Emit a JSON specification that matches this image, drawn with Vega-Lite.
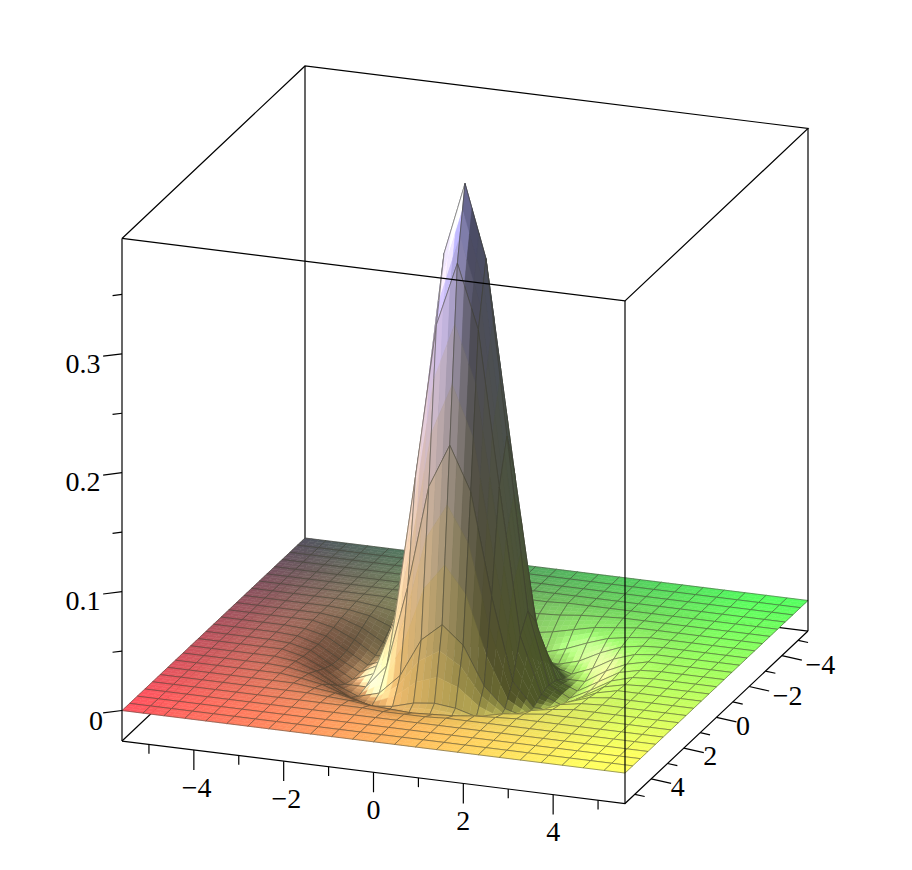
{"$schema":"https://vega.github.io/schema/vega-lite/v6.json","width":912,"height":870,"padding":0,"autosize":{"type":"none"},"background":"white","config":{"view":{"stroke":null}},
"datasets":{
"cells":[
{"id":0,"z":0},{"id":1,"z":0},{"id":2,"z":0},{"id":3,"z":0},{"id":4,"z":0},{"id":5,"z":0},{"id":6,"z":0},{"id":7,"z":0},{"id":8,"z":0},{"id":9,"z":0},{"id":10,"z":0},{"id":11,"z":0},{"id":12,"z":0},{"id":13,"z":0},{"id":14,"z":0},{"id":15,"z":0},{"id":16,"z":0},{"id":17,"z":0},{"id":18,"z":0},{"id":19,"z":0},{"id":20,"z":0},{"id":21,"z":0},{"id":22,"z":0},{"id":23,"z":0},
{"id":100,"z":0},{"id":101,"z":0},{"id":102,"z":0},{"id":103,"z":0},{"id":104,"z":0},{"id":105,"z":0},{"id":106,"z":0},{"id":107,"z":0},{"id":108,"z":0},{"id":109,"z":0},{"id":110,"z":0},{"id":111,"z":0},{"id":112,"z":0},{"id":113,"z":0},{"id":114,"z":0},{"id":115,"z":0},{"id":116,"z":0},{"id":117,"z":0},{"id":118,"z":0},{"id":119,"z":0},{"id":120,"z":0},{"id":121,"z":0},{"id":122,"z":0},{"id":123,"z":0},
{"id":200,"z":0},{"id":201,"z":0},{"id":202,"z":0},{"id":203,"z":0},{"id":204,"z":0},{"id":205,"z":0},{"id":206,"z":0},{"id":207,"z":0},{"id":208,"z":0},{"id":209,"z":0},{"id":210,"z":0},{"id":211,"z":0},{"id":212,"z":0},{"id":213,"z":0},{"id":214,"z":0},{"id":215,"z":0},{"id":216,"z":0},{"id":217,"z":0},{"id":218,"z":0},{"id":219,"z":0},{"id":220,"z":0},{"id":221,"z":0},{"id":222,"z":0},{"id":223,"z":0},
{"id":300,"z":0},{"id":301,"z":0},{"id":302,"z":0},{"id":303,"z":0},{"id":304,"z":0},{"id":305,"z":0},{"id":306,"z":0},{"id":307,"z":0},{"id":308,"z":0},{"id":309,"z":0},{"id":310,"z":0},{"id":311,"z":0},{"id":312,"z":0},{"id":313,"z":0},{"id":314,"z":0},{"id":315,"z":0},{"id":316,"z":0},{"id":317,"z":0},{"id":318,"z":0},{"id":319,"z":0},{"id":320,"z":0},{"id":321,"z":0},{"id":322,"z":0},{"id":323,"z":0},
{"id":400,"z":0},{"id":401,"z":0},{"id":402,"z":0},{"id":403,"z":0},{"id":404,"z":0},{"id":405,"z":0},{"id":406,"z":0},{"id":407,"z":0},{"id":408,"z":0},{"id":409,"z":0},{"id":410,"z":0},{"id":411,"z":-0.001},{"id":412,"z":-0.001},{"id":413,"z":-0.001},{"id":414,"z":0},{"id":415,"z":0},{"id":416,"z":0},{"id":417,"z":0},{"id":418,"z":0},{"id":419,"z":0},{"id":420,"z":0},{"id":421,"z":0},{"id":422,"z":0},{"id":423,"z":0},
{"id":500,"z":0},{"id":501,"z":0},{"id":502,"z":0},{"id":503,"z":0},{"id":504,"z":0},{"id":505,"z":0},{"id":506,"z":0},{"id":507,"z":0},{"id":508,"z":-0.001},{"id":509,"z":-0.002},{"id":510,"z":-0.004},{"id":511,"z":-0.005},{"id":512,"z":-0.006},{"id":513,"z":-0.005},{"id":514,"z":-0.004},{"id":515,"z":-0.002},{"id":516,"z":-0.001},{"id":517,"z":0},{"id":518,"z":0},{"id":519,"z":0},{"id":520,"z":0},{"id":521,"z":0},{"id":522,"z":0},{"id":523,"z":0},
{"id":600,"z":0},{"id":601,"z":0},{"id":602,"z":0},{"id":603,"z":0},{"id":604,"z":0},{"id":605,"z":0},{"id":606,"z":0},{"id":607,"z":-0.002},{"id":608,"z":-0.004},{"id":609,"z":-0.008},{"id":610,"z":-0.012},{"id":611,"z":-0.015},{"id":612,"z":-0.016},{"id":613,"z":-0.015},{"id":614,"z":-0.012},{"id":615,"z":-0.008},{"id":616,"z":-0.004},{"id":617,"z":-0.002},{"id":618,"z":0},{"id":619,"z":0},{"id":620,"z":0},{"id":621,"z":0},{"id":622,"z":0},{"id":623,"z":0},
{"id":700,"z":0},{"id":701,"z":0},{"id":702,"z":0},{"id":703,"z":0},{"id":704,"z":0},{"id":705,"z":0},{"id":706,"z":-0.002},{"id":707,"z":-0.005},{"id":708,"z":-0.011},{"id":709,"z":-0.018},{"id":710,"z":-0.023},{"id":711,"z":-0.025},{"id":712,"z":-0.025},{"id":713,"z":-0.025},{"id":714,"z":-0.023},{"id":715,"z":-0.018},{"id":716,"z":-0.011},{"id":717,"z":-0.005},{"id":718,"z":-0.002},{"id":719,"z":0},{"id":720,"z":0},{"id":721,"z":0},{"id":722,"z":0},{"id":723,"z":0},
{"id":800,"z":0},{"id":801,"z":0},{"id":802,"z":0},{"id":803,"z":0},{"id":804,"z":0},{"id":805,"z":-0.001},{"id":806,"z":-0.004},{"id":807,"z":-0.011},{"id":808,"z":-0.020},{"id":809,"z":-0.025},{"id":810,"z":-0.023},{"id":811,"z":-0.018},{"id":812,"z":-0.016},{"id":813,"z":-0.018},{"id":814,"z":-0.023},{"id":815,"z":-0.025},{"id":816,"z":-0.020},{"id":817,"z":-0.011},{"id":818,"z":-0.004},{"id":819,"z":-0.001},{"id":820,"z":0},{"id":821,"z":0},{"id":822,"z":0},{"id":823,"z":0},
{"id":900,"z":0},{"id":901,"z":0},{"id":902,"z":0},{"id":903,"z":0},{"id":904,"z":0},{"id":905,"z":-0.002},{"id":906,"z":-0.008},{"id":907,"z":-0.018},{"id":908,"z":-0.025},{"id":909,"z":-0.020},{"id":910,"z":-0.003},{"id":911,"z":0.029},{"id":912,"z":0.044},{"id":913,"z":0.029},{"id":914,"z":-0.003},{"id":915,"z":-0.020},{"id":916,"z":-0.025},{"id":917,"z":-0.018},{"id":918,"z":-0.008},{"id":919,"z":-0.002},{"id":920,"z":0},{"id":921,"z":0},{"id":922,"z":0},{"id":923,"z":0},
{"id":1000,"z":0},{"id":1001,"z":0},{"id":1002,"z":0},{"id":1003,"z":0},{"id":1004,"z":0},{"id":1005,"z":-0.004},{"id":1006,"z":-0.012},{"id":1007,"z":-0.023},{"id":1008,"z":-0.023},{"id":1009,"z":-0.003},{"id":1010,"z":0.066},{"id":1011,"z":0.152},{"id":1012,"z":0.189},{"id":1013,"z":0.152},{"id":1014,"z":0.066},{"id":1015,"z":-0.003},{"id":1016,"z":-0.023},{"id":1017,"z":-0.023},{"id":1018,"z":-0.012},{"id":1019,"z":-0.004},{"id":1020,"z":0},{"id":1021,"z":0},{"id":1022,"z":0},{"id":1023,"z":0},
{"id":1100,"z":0},{"id":1101,"z":0},{"id":1102,"z":0},{"id":1103,"z":0},{"id":1104,"z":-0.001},{"id":1105,"z":-0.005},{"id":1106,"z":-0.015},{"id":1107,"z":-0.025},{"id":1108,"z":-0.018},{"id":1109,"z":0.029},{"id":1110,"z":0.152},{"id":1111,"z":0.282},{"id":1112,"z":0.336},{"id":1113,"z":0.282},{"id":1114,"z":0.152},{"id":1115,"z":0.029},{"id":1116,"z":-0.018},{"id":1117,"z":-0.025},{"id":1118,"z":-0.015},{"id":1119,"z":-0.005},{"id":1120,"z":-0.001},{"id":1121,"z":0},{"id":1122,"z":0},{"id":1123,"z":0},
{"id":1200,"z":0},{"id":1201,"z":0},{"id":1202,"z":0},{"id":1203,"z":0},{"id":1204,"z":-0.001},{"id":1205,"z":-0.006},{"id":1206,"z":-0.016},{"id":1207,"z":-0.025},{"id":1208,"z":-0.016},{"id":1209,"z":0.044},{"id":1210,"z":0.189},{"id":1211,"z":0.336},{"id":1212,"z":0.397},{"id":1213,"z":0.336},{"id":1214,"z":0.189},{"id":1215,"z":0.044},{"id":1216,"z":-0.016},{"id":1217,"z":-0.025},{"id":1218,"z":-0.016},{"id":1219,"z":-0.006},{"id":1220,"z":-0.001},{"id":1221,"z":0},{"id":1222,"z":0},{"id":1223,"z":0},
{"id":1300,"z":0},{"id":1301,"z":0},{"id":1302,"z":0},{"id":1303,"z":0},{"id":1304,"z":-0.001},{"id":1305,"z":-0.005},{"id":1306,"z":-0.015},{"id":1307,"z":-0.025},{"id":1308,"z":-0.018},{"id":1309,"z":0.029},{"id":1310,"z":0.152},{"id":1311,"z":0.282},{"id":1312,"z":0.336},{"id":1313,"z":0.282},{"id":1314,"z":0.152},{"id":1315,"z":0.029},{"id":1316,"z":-0.018},{"id":1317,"z":-0.025},{"id":1318,"z":-0.015},{"id":1319,"z":-0.005},{"id":1320,"z":-0.001},{"id":1321,"z":0},{"id":1322,"z":0},{"id":1323,"z":0},
{"id":1400,"z":0},{"id":1401,"z":0},{"id":1402,"z":0},{"id":1403,"z":0},{"id":1404,"z":0},{"id":1405,"z":-0.004},{"id":1406,"z":-0.012},{"id":1407,"z":-0.023},{"id":1408,"z":-0.023},{"id":1409,"z":-0.003},{"id":1410,"z":0.066},{"id":1411,"z":0.152},{"id":1412,"z":0.189},{"id":1413,"z":0.152},{"id":1414,"z":0.066},{"id":1415,"z":-0.003},{"id":1416,"z":-0.023},{"id":1417,"z":-0.023},{"id":1418,"z":-0.012},{"id":1419,"z":-0.004},{"id":1420,"z":0},{"id":1421,"z":0},{"id":1422,"z":0},{"id":1423,"z":0},
{"id":1500,"z":0},{"id":1501,"z":0},{"id":1502,"z":0},{"id":1503,"z":0},{"id":1504,"z":0},{"id":1505,"z":-0.002},{"id":1506,"z":-0.008},{"id":1507,"z":-0.018},{"id":1508,"z":-0.025},{"id":1509,"z":-0.020},{"id":1510,"z":-0.003},{"id":1511,"z":0.029},{"id":1512,"z":0.044},{"id":1513,"z":0.029},{"id":1514,"z":-0.003},{"id":1515,"z":-0.020},{"id":1516,"z":-0.025},{"id":1517,"z":-0.018},{"id":1518,"z":-0.008},{"id":1519,"z":-0.002},{"id":1520,"z":0},{"id":1521,"z":0},{"id":1522,"z":0},{"id":1523,"z":0},
{"id":1600,"z":0},{"id":1601,"z":0},{"id":1602,"z":0},{"id":1603,"z":0},{"id":1604,"z":0},{"id":1605,"z":-0.001},{"id":1606,"z":-0.004},{"id":1607,"z":-0.011},{"id":1608,"z":-0.020},{"id":1609,"z":-0.025},{"id":1610,"z":-0.023},{"id":1611,"z":-0.018},{"id":1612,"z":-0.016},{"id":1613,"z":-0.018},{"id":1614,"z":-0.023},{"id":1615,"z":-0.025},{"id":1616,"z":-0.020},{"id":1617,"z":-0.011},{"id":1618,"z":-0.004},{"id":1619,"z":-0.001},{"id":1620,"z":0},{"id":1621,"z":0},{"id":1622,"z":0},{"id":1623,"z":0},
{"id":1700,"z":0},{"id":1701,"z":0},{"id":1702,"z":0},{"id":1703,"z":0},{"id":1704,"z":0},{"id":1705,"z":0},{"id":1706,"z":-0.002},{"id":1707,"z":-0.005},{"id":1708,"z":-0.011},{"id":1709,"z":-0.018},{"id":1710,"z":-0.023},{"id":1711,"z":-0.025},{"id":1712,"z":-0.025},{"id":1713,"z":-0.025},{"id":1714,"z":-0.023},{"id":1715,"z":-0.018},{"id":1716,"z":-0.011},{"id":1717,"z":-0.005},{"id":1718,"z":-0.002},{"id":1719,"z":0},{"id":1720,"z":0},{"id":1721,"z":0},{"id":1722,"z":0},{"id":1723,"z":0},
{"id":1800,"z":0},{"id":1801,"z":0},{"id":1802,"z":0},{"id":1803,"z":0},{"id":1804,"z":0},{"id":1805,"z":0},{"id":1806,"z":0},{"id":1807,"z":-0.002},{"id":1808,"z":-0.004},{"id":1809,"z":-0.008},{"id":1810,"z":-0.012},{"id":1811,"z":-0.015},{"id":1812,"z":-0.016},{"id":1813,"z":-0.015},{"id":1814,"z":-0.012},{"id":1815,"z":-0.008},{"id":1816,"z":-0.004},{"id":1817,"z":-0.002},{"id":1818,"z":0},{"id":1819,"z":0},{"id":1820,"z":0},{"id":1821,"z":0},{"id":1822,"z":0},{"id":1823,"z":0},
{"id":1900,"z":0},{"id":1901,"z":0},{"id":1902,"z":0},{"id":1903,"z":0},{"id":1904,"z":0},{"id":1905,"z":0},{"id":1906,"z":0},{"id":1907,"z":0},{"id":1908,"z":-0.001},{"id":1909,"z":-0.002},{"id":1910,"z":-0.004},{"id":1911,"z":-0.005},{"id":1912,"z":-0.006},{"id":1913,"z":-0.005},{"id":1914,"z":-0.004},{"id":1915,"z":-0.002},{"id":1916,"z":-0.001},{"id":1917,"z":0},{"id":1918,"z":0},{"id":1919,"z":0},{"id":1920,"z":0},{"id":1921,"z":0},{"id":1922,"z":0},{"id":1923,"z":0},
{"id":2000,"z":0},{"id":2001,"z":0},{"id":2002,"z":0},{"id":2003,"z":0},{"id":2004,"z":0},{"id":2005,"z":0},{"id":2006,"z":0},{"id":2007,"z":0},{"id":2008,"z":0},{"id":2009,"z":0},{"id":2010,"z":0},{"id":2011,"z":-0.001},{"id":2012,"z":-0.001},{"id":2013,"z":-0.001},{"id":2014,"z":0},{"id":2015,"z":0},{"id":2016,"z":0},{"id":2017,"z":0},{"id":2018,"z":0},{"id":2019,"z":0},{"id":2020,"z":0},{"id":2021,"z":0},{"id":2022,"z":0},{"id":2023,"z":0},
{"id":2100,"z":0},{"id":2101,"z":0},{"id":2102,"z":0},{"id":2103,"z":0},{"id":2104,"z":0},{"id":2105,"z":0},{"id":2106,"z":0},{"id":2107,"z":0},{"id":2108,"z":0},{"id":2109,"z":0},{"id":2110,"z":0},{"id":2111,"z":0},{"id":2112,"z":0},{"id":2113,"z":0},{"id":2114,"z":0},{"id":2115,"z":0},{"id":2116,"z":0},{"id":2117,"z":0},{"id":2118,"z":0},{"id":2119,"z":0},{"id":2120,"z":0},{"id":2121,"z":0},{"id":2122,"z":0},{"id":2123,"z":0},
{"id":2200,"z":0},{"id":2201,"z":0},{"id":2202,"z":0},{"id":2203,"z":0},{"id":2204,"z":0},{"id":2205,"z":0},{"id":2206,"z":0},{"id":2207,"z":0},{"id":2208,"z":0},{"id":2209,"z":0},{"id":2210,"z":0},{"id":2211,"z":0},{"id":2212,"z":0},{"id":2213,"z":0},{"id":2214,"z":0},{"id":2215,"z":0},{"id":2216,"z":0},{"id":2217,"z":0},{"id":2218,"z":0},{"id":2219,"z":0},{"id":2220,"z":0},{"id":2221,"z":0},{"id":2222,"z":0},{"id":2223,"z":0},
{"id":2300,"z":0},{"id":2301,"z":0},{"id":2302,"z":0},{"id":2303,"z":0},{"id":2304,"z":0},{"id":2305,"z":0},{"id":2306,"z":0},{"id":2307,"z":0},{"id":2308,"z":0},{"id":2309,"z":0},{"id":2310,"z":0},{"id":2311,"z":0},{"id":2312,"z":0},{"id":2313,"z":0},{"id":2314,"z":0},{"id":2315,"z":0},{"id":2316,"z":0},{"id":2317,"z":0},{"id":2318,"z":0},{"id":2319,"z":0},{"id":2320,"z":0},{"id":2321,"z":0},{"id":2322,"z":0},{"id":2323,"z":0}
],
"frame":[
{"e":"b1","part":"back","k":0,"x":-5.6,"y":-5.6,"z":0.397},{"e":"b1","part":"back","k":1,"x":-5.6,"y":-5.6,"z":-0.0257},
{"e":"b2","part":"back","k":0,"x":-5.6,"y":5.6,"z":-0.0257},{"e":"b2","part":"back","k":1,"x":-5.6,"y":-5.6,"z":-0.0257},
{"e":"b3","part":"back","k":0,"x":5.6,"y":-5.6,"z":-0.0257},{"e":"b3","part":"back","k":1,"x":-5.6,"y":-5.6,"z":-0.0257},
{"e":"top","part":"front","k":0,"x":-5.6,"y":5.6,"z":0.397},{"e":"top","part":"front","k":1,"x":5.6,"y":5.6,"z":0.397},{"e":"top","part":"front","k":2,"x":5.6,"y":-5.6,"z":0.397},{"e":"top","part":"front","k":3,"x":-5.6,"y":-5.6,"z":0.397},{"e":"top","part":"front","k":4,"x":-5.6,"y":5.6,"z":0.397},
{"e":"vl","part":"front","k":0,"x":-5.6,"y":5.6,"z":0.397},{"e":"vl","part":"front","k":1,"x":-5.6,"y":5.6,"z":-0.0257},
{"e":"vf","part":"front","k":0,"x":5.6,"y":5.6,"z":0.397},{"e":"vf","part":"front","k":1,"x":5.6,"y":5.6,"z":-0.0257},
{"e":"vr","part":"front","k":0,"x":5.6,"y":-5.6,"z":0.397},{"e":"vr","part":"front","k":1,"x":5.6,"y":-5.6,"z":-0.0257},
{"e":"bot","part":"front","k":0,"x":-5.6,"y":5.6,"z":-0.0257},{"e":"bot","part":"front","k":1,"x":5.6,"y":5.6,"z":-0.0257},{"e":"bot","part":"front","k":2,"x":5.6,"y":-5.6,"z":-0.0257},
{"e":"xa","part":"front","k":0,"x":-5,"y":5.6,"z":-0.0257},{"e":"xa","part":"front","k":1,"x":-5,"y":5.6,"z":-0.0335},
{"e":"xb","part":"front","k":0,"x":-4,"y":5.6,"z":-0.0257},{"e":"xb","part":"front","k":1,"x":-4,"y":5.6,"z":-0.0425},
{"e":"xc","part":"front","k":0,"x":-3,"y":5.6,"z":-0.0257},{"e":"xc","part":"front","k":1,"x":-3,"y":5.6,"z":-0.0335},
{"e":"xd","part":"front","k":0,"x":-2,"y":5.6,"z":-0.0257},{"e":"xd","part":"front","k":1,"x":-2,"y":5.6,"z":-0.0425},
{"e":"xe","part":"front","k":0,"x":-1,"y":5.6,"z":-0.0257},{"e":"xe","part":"front","k":1,"x":-1,"y":5.6,"z":-0.0335},
{"e":"xf","part":"front","k":0,"x":0,"y":5.6,"z":-0.0257},{"e":"xf","part":"front","k":1,"x":0,"y":5.6,"z":-0.0425},
{"e":"xg","part":"front","k":0,"x":1,"y":5.6,"z":-0.0257},{"e":"xg","part":"front","k":1,"x":1,"y":5.6,"z":-0.0335},
{"e":"xh","part":"front","k":0,"x":2,"y":5.6,"z":-0.0257},{"e":"xh","part":"front","k":1,"x":2,"y":5.6,"z":-0.0425},
{"e":"xi","part":"front","k":0,"x":3,"y":5.6,"z":-0.0257},{"e":"xi","part":"front","k":1,"x":3,"y":5.6,"z":-0.0335},
{"e":"xj","part":"front","k":0,"x":4,"y":5.6,"z":-0.0257},{"e":"xj","part":"front","k":1,"x":4,"y":5.6,"z":-0.0425},
{"e":"xk","part":"front","k":0,"x":5,"y":5.6,"z":-0.0257},{"e":"xk","part":"front","k":1,"x":5,"y":5.6,"z":-0.0335},
{"e":"ya","part":"front","k":0,"x":5.6,"y":-5,"z":-0.0257},{"e":"ya","part":"front","k":1,"x":5.82,"y":-5,"z":-0.0265},
{"e":"yb","part":"front","k":0,"x":5.6,"y":-4,"z":-0.0257},{"e":"yb","part":"front","k":1,"x":6.045,"y":-4,"z":-0.0274},
{"e":"yc","part":"front","k":0,"x":5.6,"y":-3,"z":-0.0257},{"e":"yc","part":"front","k":1,"x":5.82,"y":-3,"z":-0.0265},
{"e":"yd","part":"front","k":0,"x":5.6,"y":-2,"z":-0.0257},{"e":"yd","part":"front","k":1,"x":6.045,"y":-2,"z":-0.0274},
{"e":"ye","part":"front","k":0,"x":5.6,"y":-1,"z":-0.0257},{"e":"ye","part":"front","k":1,"x":5.82,"y":-1,"z":-0.0265},
{"e":"yf","part":"front","k":0,"x":5.6,"y":0,"z":-0.0257},{"e":"yf","part":"front","k":1,"x":6.045,"y":0,"z":-0.0274},
{"e":"yg","part":"front","k":0,"x":5.6,"y":1,"z":-0.0257},{"e":"yg","part":"front","k":1,"x":5.82,"y":1,"z":-0.0265},
{"e":"yh","part":"front","k":0,"x":5.6,"y":2,"z":-0.0257},{"e":"yh","part":"front","k":1,"x":6.045,"y":2,"z":-0.0274},
{"e":"yi","part":"front","k":0,"x":5.6,"y":3,"z":-0.0257},{"e":"yi","part":"front","k":1,"x":5.82,"y":3,"z":-0.0265},
{"e":"yj","part":"front","k":0,"x":5.6,"y":4,"z":-0.0257},{"e":"yj","part":"front","k":1,"x":6.045,"y":4,"z":-0.0274},
{"e":"yk","part":"front","k":0,"x":5.6,"y":5,"z":-0.0257},{"e":"yk","part":"front","k":1,"x":5.82,"y":5,"z":-0.0265},
{"e":"za","part":"front","k":0,"x":-5.6,"y":5.6,"z":0},{"e":"za","part":"front","k":1,"x":-6.02,"y":5.6,"z":-0.004},
{"e":"zb","part":"front","k":0,"x":-5.6,"y":5.6,"z":0.05},{"e":"zb","part":"front","k":1,"x":-5.81,"y":5.6,"z":0.048},
{"e":"zc","part":"front","k":0,"x":-5.6,"y":5.6,"z":0.1},{"e":"zc","part":"front","k":1,"x":-6.02,"y":5.6,"z":0.096},
{"e":"zd","part":"front","k":0,"x":-5.6,"y":5.6,"z":0.15},{"e":"zd","part":"front","k":1,"x":-5.81,"y":5.6,"z":0.148},
{"e":"ze","part":"front","k":0,"x":-5.6,"y":5.6,"z":0.2},{"e":"ze","part":"front","k":1,"x":-6.02,"y":5.6,"z":0.196},
{"e":"zf","part":"front","k":0,"x":-5.6,"y":5.6,"z":0.25},{"e":"zf","part":"front","k":1,"x":-5.81,"y":5.6,"z":0.248},
{"e":"zg","part":"front","k":0,"x":-5.6,"y":5.6,"z":0.3},{"e":"zg","part":"front","k":1,"x":-6.02,"y":5.6,"z":0.296},
{"e":"zh","part":"front","k":0,"x":-5.6,"y":5.6,"z":0.35},{"e":"zh","part":"front","k":1,"x":-5.81,"y":5.6,"z":0.348}
],
"labels":[
{"t":"−4","x":-3.94,"y":5.6,"z":-0.0581},{"t":"−2","x":-1.94,"y":5.6,"z":-0.0581},{"t":"0","x":0,"y":5.6,"z":-0.0581},{"t":"2","x":2,"y":5.6,"z":-0.0581},{"t":"4","x":4,"y":5.6,"z":-0.0581},
{"t":"−4","x":6.457,"y":-4,"z":-0.0303},{"t":"−2","x":6.457,"y":-2,"z":-0.0303},{"t":"0","x":6.19,"y":0,"z":-0.0308},{"t":"2","x":6.19,"y":2,"z":-0.0308},{"t":"4","x":6.19,"y":4,"z":-0.0308},
{"t":"0","x":-6.179,"y":5.6,"z":-0.0121},{"t":"0.1","x":-6.468,"y":5.6,"z":0.0869},{"t":"0.2","x":-6.468,"y":5.6,"z":0.1869},{"t":"0.3","x":-6.468,"y":5.6,"z":0.2869}
]},
"layer":[
{"data":{"name":"frame"},"transform":[{"filter":"datum.part==='back'"},{"calculate":"305+(datum.x+5.6)/11.2*503-(datum.y+5.6)/11.2*183","as":"sx"},{"calculate":"538+(datum.x+5.6)/11.2*62.5+(datum.y+5.6)/11.2*172.5-1189*datum.z","as":"sy"}],
"mark":{"type":"line","stroke":"#000","strokeWidth":1.2},
"encoding":{"x":{"field":"sx","type":"quantitative","scale":{"domain":[0,912],"nice":false,"zero":false},"axis":null},"y":{"field":"sy","type":"quantitative","scale":{"domain":[870,0],"nice":false,"zero":false},"axis":null},"detail":{"field":"e"},"order":{"field":"k"}}},
{"data":{"name":"cells"},"transform":[
{"calculate":"datum.id+100","as":"k10"},{"lookup":"k10","from":{"data":{"name":"cells"},"key":"id","fields":["z"]},"as":["z10"],"default":0},
{"calculate":"datum.id+1","as":"k01"},{"lookup":"k01","from":{"data":{"name":"cells"},"key":"id","fields":["z"]},"as":["z01"],"default":0},
{"calculate":"datum.id+101","as":"k11"},{"lookup":"k11","from":{"data":{"name":"cells"},"key":"id","fields":["z"]},"as":["z11"],"default":0},
{"calculate":"datum.id-100","as":"km0"},{"lookup":"km0","from":{"data":{"name":"cells"},"key":"id","fields":["z"]},"as":["zm0"],"default":0},
{"calculate":"datum.id-99","as":"km1"},{"lookup":"km1","from":{"data":{"name":"cells"},"key":"id","fields":["z"]},"as":["zm1"],"default":0},
{"calculate":"datum.id+200","as":"k20"},{"lookup":"k20","from":{"data":{"name":"cells"},"key":"id","fields":["z"]},"as":["z20"],"default":0},
{"calculate":"datum.id+201","as":"k21"},{"lookup":"k21","from":{"data":{"name":"cells"},"key":"id","fields":["z"]},"as":["z21"],"default":0},
{"calculate":"datum.id-1","as":"k0m"},{"lookup":"k0m","from":{"data":{"name":"cells"},"key":"id","fields":["z"]},"as":["z0m"],"default":0},
{"calculate":"datum.id+99","as":"k1m"},{"lookup":"k1m","from":{"data":{"name":"cells"},"key":"id","fields":["z"]},"as":["z1m"],"default":0},
{"calculate":"datum.id+2","as":"k02"},{"lookup":"k02","from":{"data":{"name":"cells"},"key":"id","fields":["z"]},"as":["z02"],"default":0},
{"calculate":"datum.id+102","as":"k12"},{"lookup":"k12","from":{"data":{"name":"cells"},"key":"id","fields":["z"]},"as":["z12"],"default":0},
{"calculate":"floor(datum.id/100)","as":"i"},{"calculate":"datum.id%100","as":"j"},
{"calculate":"[0,1,2,3,4,5,6,7,8,9]","as":"sub"},{"flatten":["sub"]},
{"calculate":"(floor(datum.sub/3)+0.5)/3","as":"uc"},{"calculate":"((datum.sub%3)+0.5)/3","as":"vc"},
{"calculate":"datum.z*(1-datum.uc)*(1-datum.vc)+datum.z10*datum.uc*(1-datum.vc)+datum.z01*(1-datum.uc)*datum.vc+datum.z11*datum.uc*datum.vc","as":"hc"},
{"calculate":"56.74*(0.5*(datum.z10-datum.zm0)*(1-datum.uc)*(1-datum.vc)+0.5*(datum.z20-datum.z)*datum.uc*(1-datum.vc)+0.5*(datum.z11-datum.zm1)*(1-datum.uc)*datum.vc+0.5*(datum.z21-datum.z01)*datum.uc*datum.vc)","as":"a"},
{"calculate":"56.74*(0.5*(datum.z01-datum.z0m)*(1-datum.uc)*(1-datum.vc)+0.5*(datum.z11-datum.z1m)*datum.uc*(1-datum.vc)+0.5*(datum.z02-datum.z)*(1-datum.uc)*datum.vc+0.5*(datum.z12-datum.z10)*datum.uc*datum.vc)","as":"b"},
{"calculate":"(0.72*datum.a-0.33*datum.b+0.61)/sqrt(datum.a*datum.a+datum.b*datum.b+1)","as":"s"},
{"calculate":"datum.s>=0.61?1+(datum.s-0.61)*0.7:max(0.42,1+(datum.s-0.61)*0.9)","as":"l"},
{"calculate":"max(0,datum.s-0.82)*550","as":"w"},
{"calculate":"82+190*(datum.j+datum.vc)/24","as":"r0"},
{"calculate":"82+190*(datum.i+datum.uc)/24","as":"g0"},
{"calculate":"95+160*min(1,max(0,datum.hc)/0.39)","as":"b0"},
{"calculate":"'rgb('+round(datum.r0*datum.l+datum.w)+','+round(datum.g0*datum.l+datum.w)+','+round(datum.b0*datum.l+datum.w)+')'","as":"rgb"},
{"calculate":"datum.sub==9?'none':datum.rgb","as":"fillc"},
{"calculate":"datum.sub==9?'#3c3c30':datum.rgb","as":"strokec"},
{"calculate":"0.5","as":"sw"},
{"calculate":"datum.id*10+datum.sub","as":"sid"},
{"calculate":"[0,1,2,3,4]","as":"corner"},{"flatten":["corner"]},
{"calculate":"(datum.corner==1||datum.corner==2)?1:0","as":"cu"},
{"calculate":"(datum.corner==2||datum.corner==3)?1:0","as":"cv"},
{"calculate":"datum.sub==9?datum.cu:(floor(datum.sub/3)+datum.cu)/3","as":"U"},
{"calculate":"datum.sub==9?datum.cv:((datum.sub%3)+datum.cv)/3","as":"V"},
{"calculate":"datum.z*(1-datum.U)*(1-datum.V)+datum.z10*datum.U*(1-datum.V)+datum.z01*(1-datum.U)*datum.V+datum.z11*datum.U*datum.V","as":"h"},
{"calculate":"305+20.96*(datum.i+datum.U)-7.625*(datum.j+datum.V)","as":"sx"},
{"calculate":"538+2.604*(datum.i+datum.U)+7.19*(datum.j+datum.V)-1189*datum.h","as":"sy"}],
"mark":{"type":"line","filled":true},
"encoding":{"x":{"field":"sx","type":"quantitative"},"y":{"field":"sy","type":"quantitative"},"detail":{"field":"sid"},"order":{"field":"corner"},
"fill":{"field":"fillc","type":"nominal","scale":null,"legend":null},"stroke":{"field":"strokec","type":"nominal","scale":null,"legend":null},"strokeWidth":{"field":"sw","type":"quantitative","scale":null,"legend":null}}},
{"data":{"name":"frame"},"transform":[{"filter":"datum.part==='front'"},{"calculate":"305+(datum.x+5.6)/11.2*503-(datum.y+5.6)/11.2*183","as":"sx"},{"calculate":"538+(datum.x+5.6)/11.2*62.5+(datum.y+5.6)/11.2*172.5-1189*datum.z","as":"sy"}],
"mark":{"type":"line","stroke":"#000","strokeWidth":1.2},
"encoding":{"x":{"field":"sx","type":"quantitative"},"y":{"field":"sy","type":"quantitative"},"detail":{"field":"e"},"order":{"field":"k"}}},
{"data":{"name":"labels"},"transform":[{"calculate":"305+(datum.x+5.6)/11.2*503-(datum.y+5.6)/11.2*183","as":"sx"},{"calculate":"538+(datum.x+5.6)/11.2*62.5+(datum.y+5.6)/11.2*172.5-1189*datum.z","as":"sy"}],
"mark":{"type":"text","font":"Liberation Serif","fontSize":28,"align":"center","baseline":"middle","color":"#000"},
"encoding":{"x":{"field":"sx","type":"quantitative"},"y":{"field":"sy","type":"quantitative"},"text":{"field":"t"}}}
]}
